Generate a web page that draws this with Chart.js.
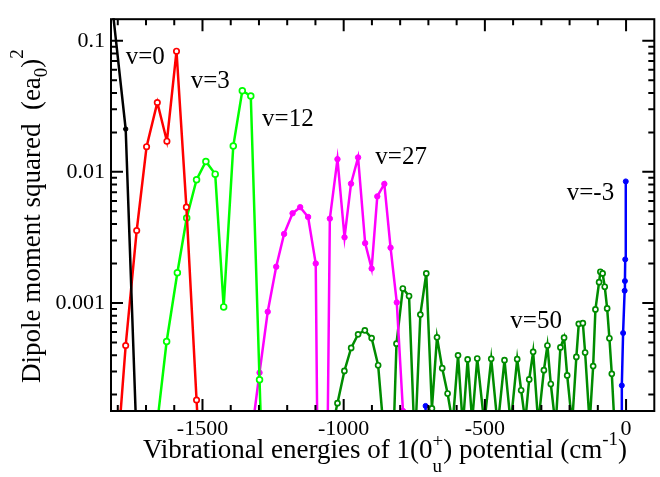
<!DOCTYPE html>
<html>
<head>
<meta charset="utf-8">
<script src="https://cdn.jsdelivr.net/npm/chart.js@4.4.1/dist/chart.umd.min.js"></script>
<style>
html,body{margin:0;padding:0;background:#fff;}
canvas{display:block;}
</style>
</head>
<body>
<canvas id="c" width="660" height="477"></canvas>
<script>
// ---- data (energies in cm^-1, dipole moment squared in (ea0)^2) ----
const xTickValues = [-1500, -1000, -500, 0];
const xTickLabels = ['-1500', '-1000', '-500', '0'];
const yTickValues = [0.001, 0.01, 0.1];
const yTickLabels = ['0.001', '0.01', '0.1'];

const blackE = [-1818, -1772, -1730];
const blackD = [0.17, 0.0212, 5.6e-5];

const redE = [-1810, -1772, -1733, -1698, -1660, -1626, -1592, -1557, -1521, -1486];
const redD = [4e-5, 4.74e-4, 3.57e-3, 0.01556, 0.0338, 0.01714, 0.0832, 0.00538, 1.82e-4, 7e-6];

const limeE = [-1663, -1627, -1589, -1556, -1521, -1488, -1455, -1425, -1391, -1359, -1329, -1298, -1266];
const limeD = [1.08e-4, 5.08e-4, 1.70e-3, 4.45e-3, 8.71e-3, 0.0120, 9.61e-3, 9.33e-4, 0.01573, 0.0416, 0.0379, 2.60e-4, 1.6e-6];

const magentaE = [-1326, -1298, -1269, -1239, -1211, -1181, -1154, -1126, -1099, -1076, -1049, -1022, -997, -974, -949, -924, -901, -881, -856, -834, -812, -790];
const magentaD = [1.0e-4, 2.94e-4, 8.57e-4, 1.89e-3, 3.36e-3, 4.83e-3, 5.38e-3, 4.53e-3, 2.00e-3, 1e-8, 4.40e-3, 0.0125, 3.17e-3, 8.13e-3, 0.01288, 2.86e-3, 1.83e-3, 6.50e-3, 8.09e-3, 2.64e-3, 1.01e-3, 1.5e-4];

const dgreenE = [-1047, -1022, -997.5, -973.5, -949, -925, -901, -878, -854.5, -831, -813, -790.5, -768.5, -748, -728.5, -707.5, -687.5, -669.5, -651, -632, -614, -595, -578, -561, -545, -527, -502, -477.5, -454.5, -430.5, -408.5, -385.5, -371.5, -357, -343, -329, -311, -291, -278.5, -266.5, -249.5, -232.5, -219.5, -208.5, -191, -176, -167.5, -153, -145, -129, -116.5, -108.5, -95.5, -91, -83, -75.5, -67, -59, -50.5, -32];
const dgreenD = [9.7e-5, 1.72e-4, 3.03e-4, 4.54e-4, 5.77e-4, 6.19e-4, 5.40e-4, 3.35e-4, 8.5e-5, 3e-5, 4.89e-4, 1.29e-3, 1.13e-3, 8e-5, 8.16e-4, 1.68e-3, 1.57e-4, 5.47e-4, 3.18e-4, 2.04e-4, 1.2e-4, 3.99e-4, 1.15e-4, 3.71e-4, 1.25e-4, 3.77e-4, 1.2e-4, 3.75e-4, 1.15e-4, 3.66e-4, 1.2e-4, 3.73e-4, 2.16e-4, 1.25e-4, 2.61e-4, 4.24e-4, 1.2e-4, 3.07e-4, 4.74e-4, 2.41e-4, 1.15e-4, 4.58e-4, 5.44e-4, 2.80e-4, 1.2e-4, 3.88e-4, 6.93e-4, 7.01e-4, 4.19e-4, 1.2e-4, 3.30e-4, 8.93e-4, 1.44e-3, 1.73e-3, 1.68e-3, 1.33e-3, 9.08e-4, 5.38e-4, 2.88e-4, 5e-5];

const blueE = [-720, -710, -700, -16, -15, -10.5, -5, -4, -3, -1];
const blueD = [1e-8, 1.64e-4, 1e-8, 1e-8, 2.35e-4, 5.9e-4, 1.24e-3, 1.47e-3, 2.15e-3, 8.46e-3];

const noteTexts = ['v=0', 'v=3', 'v=12', 'v=27', 'v=50', 'v=-3'];
const noteE = [-1772, -1542, -1289, -888, -410, -210];
const noteD = [0.0665, 0.0439, 0.0222, 0.01148, 6.5e-4, 6.1e-3];

// ---- build ----
const SERIF = "'Liberation Serif', 'Times New Roman', serif";
const pts = (E, D) => E.map((e, i) => ({x: e, y: D[i]}));
function ds(E, D, color, open, r) {
  return {
    data: pts(E, D), borderColor: color, borderWidth: 2.5,
    pointRadius: r, pointBorderWidth: open ? 1.7 : 1,
    pointBackgroundColor: open ? '#ffffff' : color, pointBorderColor: color,
    tension: 0, fill: false, clip: 1
  };
}

const framePlugin = {
  id: 'frame',
  afterDatasetsDraw(chart) {
    const {ctx, chartArea: a, scales: {x, y}} = chart;
    ctx.save();
    ctx.strokeStyle = '#000';
    ctx.lineWidth = 2;
    ctx.beginPath();
    for (let v = -1800; v <= 100; v += 100) {
      const px = x.getPixelForValue(v);
      if (px <= a.left + 1 || px >= a.right - 1) continue;
      const len = (v % 500 === 0) ? 12 : 6;
      ctx.moveTo(px, a.bottom); ctx.lineTo(px, a.bottom - len);
      ctx.moveTo(px, a.top); ctx.lineTo(px, a.top + len);
    }
    for (let d = 1e-4; d < 1; d *= 10) {
      for (let k = 1; k <= 9; k++) {
        const v = k * d;
        if (v < y.min || v > y.max) continue;
        const py = y.getPixelForValue(v);
        const len = k === 1 ? 12 : 6;
        ctx.moveTo(a.left, py); ctx.lineTo(a.left + len, py);
        ctx.moveTo(a.right, py); ctx.lineTo(a.right - len, py);
      }
    }
    ctx.stroke();
    ctx.strokeRect(a.left, a.top, a.right - a.left, a.bottom - a.top);
    // curve labels
    ctx.fillStyle = '#000';
    ctx.font = '25px ' + SERIF;
    ctx.textAlign = 'left';
    ctx.textBaseline = 'alphabetic';
    noteTexts.forEach((t, i) => {
      ctx.fillText(t, x.getPixelForValue(noteE[i]), y.getPixelForValue(noteD[i]));
    });
    ctx.restore();
  },
  afterDraw(chart) {
    const {ctx, chartArea: a} = chart;
    ctx.save();
    ctx.fillStyle = '#000';
    ctx.textBaseline = 'alphabetic';
    ctx.textAlign = 'left';
    const big = '27px ' + SERIF, small = '19px ' + SERIF;
    // x title
    const parts = [
      {t: 'Vibrational energies of 1(0', f: big, dy: 0},
      {t: '+', f: small, dy: -11, stack: true},
      {t: 'u', f: small, dy: 14},
      {t: ') potential (cm', f: big, dy: 0},
      {t: '-1', f: small, dy: -13},
      {t: ')', f: big, dy: 0}
    ];
    function measure(list) {
      let w = 0, pend = 0;
      list.forEach(p => {
        ctx.font = p.f;
        const mw = ctx.measureText(p.t).width;
        if (p.stack) { pend = mw; } else { w += Math.max(mw, pend); pend = 0; }
      });
      return w;
    }
    function drawParts(list, x0, y0) {
      let cx = x0, pend = 0;
      list.forEach(p => {
        ctx.font = p.f;
        const mw = ctx.measureText(p.t).width;
        ctx.fillText(p.t, cx, y0 + p.dy);
        if (p.stack) { pend = mw; } else { cx += Math.max(mw, pend); pend = 0; }
      });
    }
    const wx = measure(parts);
    drawParts(parts, 385 - wx / 2, 458);
    // y title
    const yparts = [
      {t: 'Dipole moment squared  (ea', f: big, dy: 0},
      {t: '0', f: small, dy: 7},
      {t: ')', f: big, dy: 0},
      {t: '2', f: small, dy: -17}
    ];
    const wy = measure(yparts);
    ctx.translate(40, (a.top + a.bottom) / 2 + 1);
    ctx.rotate(-Math.PI / 2);
    drawParts(yparts, -wy / 2, 0);
    ctx.restore();
  }
};

new Chart(document.getElementById('c'), {
  type: 'line',
  data: {
    datasets: [
      ds(blackE, blackD, '#000000', false, 2.2),
      ds(redE, redD, '#ff0000', true, 2.7),
      ds(limeE, limeD, '#00ff00', true, 2.9),
      ds(magentaE, magentaD, '#ff00ff', false, 2.7),
      ds(dgreenE, dgreenD, '#008c00', true, 2.5),
      ds(blueE, blueD, '#0000ff', false, 2.5)
    ]
  },
  options: {
    responsive: false,
    animation: false,
    devicePixelRatio: 1,
    layout: {padding: {top: 12, right: 5, left: 0, bottom: 0}},
    plugins: {legend: {display: false}, tooltip: {enabled: false}, title: {display: false}},
    scales: {
      x: {
        type: 'linear', min: -1824, max: 100,
        grid: {display: false, drawTicks: false, tickLength: 0},
        border: {display: false},
        ticks: {
          color: '#000', font: {family: SERIF, size: 22}, padding: 5,
          maxRotation: 0, autoSkip: false,
          callback: (v, i) => xTickLabels[i]
        },
        afterBuildTicks: s => { s.ticks = xTickValues.map(v => ({value: v})); },
        afterFit: s => { s.height = 66; }
      },
      y: {
        type: 'logarithmic', min: 1.5e-4, max: 0.146,
        grid: {display: false, drawTicks: false, tickLength: 0},
        border: {display: false},
        ticks: {
          color: '#000', font: {family: SERIF, size: 22}, padding: 6,
          autoSkip: false,
          callback: (v, i) => yTickLabels[i]
        },
        afterBuildTicks: s => { s.ticks = yTickValues.map(v => ({value: v})); },
        afterFit: s => { s.width = 111; }
      }
    }
  },
  plugins: [framePlugin]
});
</script>
</body>
</html>
